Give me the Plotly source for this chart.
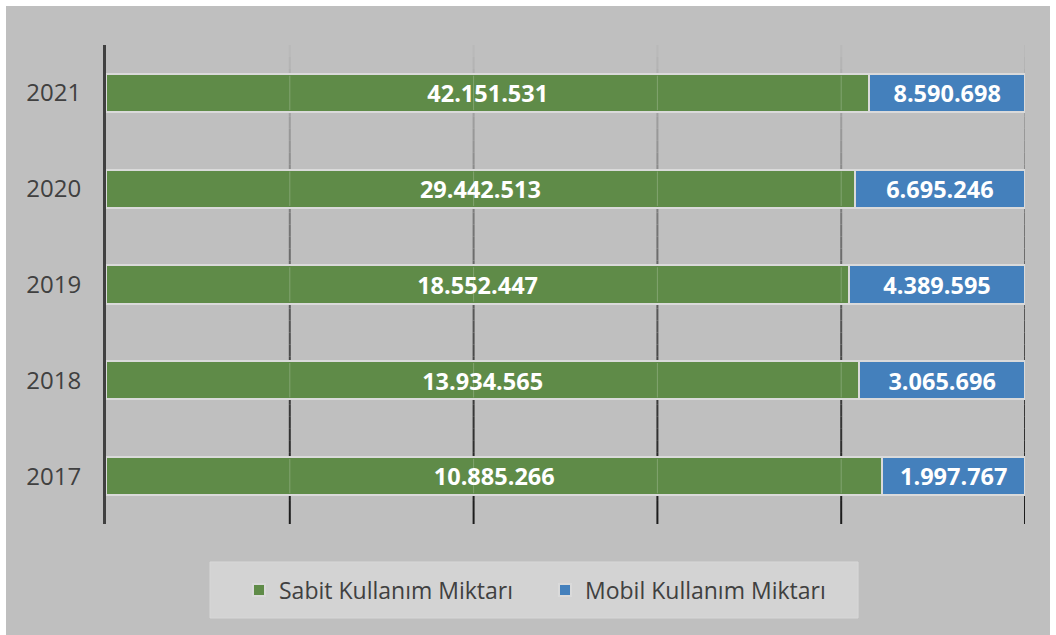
import plotly.graph_objects as go

years = ["2017", "2018", "2019", "2020", "2021"]
sabit = [10885266, 13934565, 18552447, 29442513, 42151531]
mobil = [1997767, 3065696, 4389595, 6695246, 8590698]
series_names = ["Sabit Kullanım Miktarı", "Mobil Kullanım Miktarı"]
grid_ticks = [20, 40, 60, 80, 100]

GREEN = "#5F8B48"
BLUE = "#4480BC"
FONT = "Open Sans"
BARGAP = 0.6


def fmt(v):
    return f"{v:,}".replace(",", ".")


fig = go.Figure()
for name, vals, col in [(series_names[0], sabit, GREEN), (series_names[1], mobil, BLUE)]:
    fig.add_trace(go.Bar(
        y=years, x=vals, name=name, orientation="h",
        marker=dict(color=col, line=dict(color="#DADADA", width=2)),
        text=[fmt(v) for v in vals], textposition="inside",
        insidetextanchor="middle", textangle=0,
        textfont=dict(family=FONT, size=24, color="white", weight="bold"),
        hoverinfo="skip",
    ))

shapes = []
# chart background
shapes.append(dict(type="rect", xref="paper", yref="paper",
                   x0=-0.1088, x1=1.0272, y0=-0.2317, y1=1.0814,
                   fillcolor="#BFBFBF", line=dict(width=0), layer="below"))
# legend box
shapes.append(dict(type="rect", xref="paper", yref="paper",
                   x0=0.1132, x1=0.8183, y0=-0.1962, y1=-0.0793,
                   fillcolor="#D3D3D3", line=dict(color="#D8D8D8", width=1), layer="below"))
# gradient gridlines (light at top, dark at bottom)
N = 40
for t in grid_ticks:
    for k in range(N):
        f = k / N
        shade = int(0x1C + (0xBC - 0x1C) * ((k + 0.5) / N) ** 1.2)
        c = f"rgb({shade},{shade},{shade})"
        shapes.append(dict(type="line", xref="x", yref="y domain",
                           x0=t, x1=t, y0=f, y1=(k + 1) / N,
                           line=dict(color=c, width=2), layer="below"))
# faint gridline visible through the bars
half = (1 - BARGAP) / 2
for i, _ in enumerate(years):
    for t in grid_ticks[:-1]:
        shapes.append(dict(type="line", xref="x", yref="y",
                           x0=t, x1=t, y0=i - half + 0.02, y1=i + half - 0.02,
                           line=dict(color="rgba(255,255,255,0.22)", width=1), layer="above"))

fig.update_layout(
    width=1056, height=635,
    barmode="stack", barnorm="percent", bargap=BARGAP,
    paper_bgcolor="white", plot_bgcolor="rgba(0,0,0,0)",
    margin=dict(l=106, r=31, t=45, b=111),
    shapes=shapes,
    showlegend=True,
    legend=dict(orientation="h", x=0.4777, xanchor="center", y=-0.138, yanchor="middle",
                bgcolor="rgba(0,0,0,0)", font=dict(family=FONT, size=23, color="#404040"),
                traceorder="normal", entrywidth=261, entrywidthmode="pixels"),
    xaxis=dict(range=[0, 100], showgrid=False, zeroline=False, showticklabels=False,
               showline=False, ticks=""),
    yaxis=dict(showgrid=False, zeroline=False, showline=True, linewidth=3,
               linecolor="#404040", ticks="", ticklabelstandoff=17,
               tickfont=dict(family=FONT, size=24, color="#404040")),
)

fig.write_html("out.html", post_script="document.body.style.margin='0';",
               config={"displayModeBar": False})
